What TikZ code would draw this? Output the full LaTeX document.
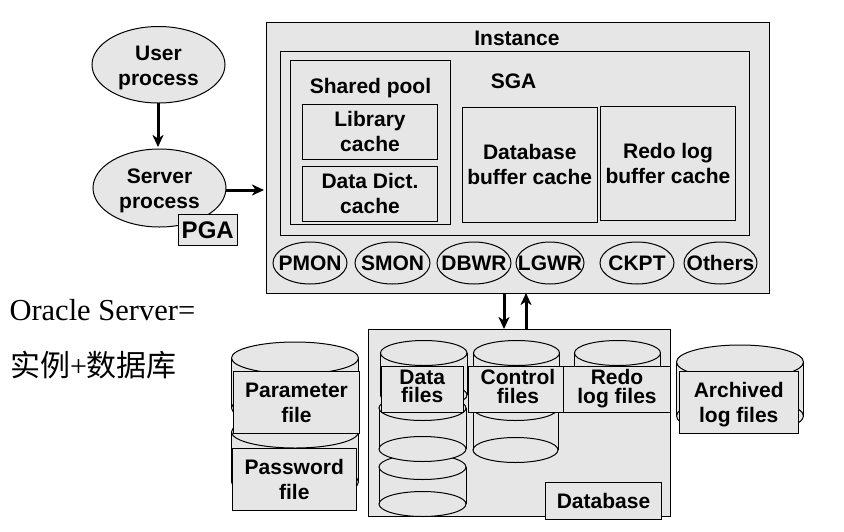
\documentclass[tikz,border=0pt]{standalone}
\usepackage{fontspec}
\setmainfont{Liberation Sans}
\newfontfamily\serifone{Liberation Serif}
\newfontfamily\cjkone{Noto Sans CJK SC}
\usetikzlibrary{arrows.meta,shapes.geometric}
\definecolor{panel}{HTML}{E6E6E6}
\tikzset{
  every node/.style={inner sep=0pt,outer sep=0pt,text=black},
  lbl/.style={font=\bfseries\fontsize{21}{25}\selectfont,align=center},
  panelbox/.style={draw=black,fill=panel,line width=1pt,rectangle},
  procshape/.style={draw=black,fill=panel,line width=1pt,ellipse},
  flow/.style={draw=black,line width=3pt,-{Stealth[length=12pt,width=11pt,inset=3.5pt]}},
  cylline/.style={draw=black,line width=1pt,fill=panel}
}
% name, x1, y1, x2, y2, text
\newcommand\pbox[7][]{%
  \pgfmathsetmacro\bw{#5-#3}\pgfmathsetmacro\bh{#6-#4}%
  \pgfmathsetmacro\bx{(#5+#3)/2}\pgfmathsetmacro\by{(#6+#4)/2}%
  \node[panelbox,lbl,minimum width=\bw pt,minimum height=\bh pt,#1] (#2) at (\bx,\by) {#7};}
\newcommand\pell[7][]{%
  \pgfmathsetmacro\bw{#5-#3}\pgfmathsetmacro\bh{#6-#4}%
  \pgfmathsetmacro\bx{(#5+#3)/2}\pgfmathsetmacro\by{(#6+#4)/2}%
  \node[procshape,lbl,minimum width=\bw pt,minimum height=\bh pt,#1] (#2) at (\bx,\by) {#7};}
% x-left, x-right, ry, y top centre, y bottom centre
\newcommand\cyl[5]{%
  \pgfmathsetmacro\cx{(#1+#2)/2}\pgfmathsetmacro\rx{(#2-#1)/2}%
  \fill[panel] (#1,#4) rectangle (#2,#5);
  \draw[cylline] (\cx,#5) ellipse[x radius=\rx pt,y radius=#3 pt];
  \draw[line width=1pt] (#1,#4) -- (#1,#5) (#2,#4) -- (#2,#5);
  \draw[cylline] (\cx,#4) ellipse[x radius=\rx pt,y radius=#3 pt];}
% extra depth, width, line one, line two
\newcommand\tight[4]{\parbox{#2}{\centering\fontsize{21}{18.5}\selectfont #3\\#4\rule[-#1]{0pt}{1pt}}}
\begin{document}
\begin{tikzpicture}[x=1pt,y=-1pt]
\useasboundingbox (0,0) rectangle (844,531);
% processes on the left
\pell{user}{92}{26.5}{225}{103}{\rule{0pt}{20pt}User\\process}
\pell{server}{93}{149}{226}{227}{\rule{0pt}{20pt}Server\\process}
\pbox{pga}{178}{214}{237.5}{245.5}{\fontsize{24}{25}\selectfont PGA}
% instance
\pbox{instance}{266.5}{22.5}{769.5}{293}{}
\node[lbl] (instlabel) at (517,38) {Instance};
\pbox{sga}{280}{51.5}{749}{235}{}
\node[lbl] (sgalabel) at (513.5,81) {SGA};
\pbox{pool}{290.5}{60.5}{450.5}{224.5}{}
\node[lbl] (poollabel) at (370.5,88) {Shared pool};
\pbox{library}{302.5}{104.5}{437.5}{159}{Library\\cache}
\pbox{dict}{302.5}{166.5}{437.5}{221}{Data Dict.\\cache}
\pbox{dbbuf}{462}{107}{597.5}{222}{Database\\buffer cache}
\pbox{redobuf}{600.5}{106}{735.5}{220.5}{Redo log\\buffer cache}
\pell{pmon}{273}{242}{347}{284}{\makebox[0pt]{PMON}}
\pell{smon}{355}{242}{430}{284}{\makebox[0pt]{SMON}}
\pell{dbwr}{437}{242}{511}{284}{\makebox[0pt]{DBWR}}
\pell{lgwr}{516}{242}{584}{284}{\makebox[0pt]{LGWR}}
\pell{ckpt}{600}{242}{674}{284}{\makebox[0pt]{CKPT}}
\pell{others}{684}{242}{757}{284}{\makebox[0pt]{Others}}
% free text
\node[anchor=base west,font=\serifone\fontsize{30.5}{30}\selectfont] (oracle) at (9.5,320) {Oracle Server=};
\node[anchor=base west,font=\fontsize{30}{30}\selectfont] (cn) at (10,376) {{\cjkone 实例}{\serifone +}{\cjkone 数据库}};
% database
\pbox{database}{368.5}{329.5}{670}{516.5}{}
\cyl{379}{466}{12.5}{467}{504}
\cyl{379}{466}{12.5}{408}{449}
\cyl{380.5}{467}{12.5}{353}{395}
\cyl{473}{558}{12.5}{408}{450}
\cyl{473.5}{559.5}{12.5}{353}{395}
\cyl{574.5}{660.5}{12.5}{353}{395}
\pbox{datafiles}{381.5}{366.5}{463}{412.5}{\tight{6pt}{78pt}{Data}{files}}
\pbox{ctrlfiles}{468.5}{366.5}{563.5}{412.5}{\hspace*{4pt}\tight{6pt}{88pt}{Control}{files}}
\pbox{redofiles}{563.5}{366.5}{670.5}{412.5}{\tight{6.5pt}{100pt}{Redo}{log files}}
\pbox{dblabel}{545.5}{482.5}{661.5}{519.5}{Database}
% outer cylinders
\cyl{231.5}{358.5}{16}{432}{482}
\cyl{231.5}{358.5}{16}{358}{408}
\pbox{paramfile}{233.5}{371.5}{359.5}{433}{\rule{0pt}{16pt}Parameter\\file}
\pbox{pwfile}{232.5}{448.5}{356}{510.5}{Password\\file}
\cyl{676.5}{803.5}{17}{362}{416}
\pbox{archfile}{679}{371.5}{798.5}{433.5}{\rule{0pt}{20pt}Archived\\log files}
% connectors
\coordinate (srvin) at (264,190);
\coordinate (dnTop) at (504,293);
\coordinate (dnEnd) at (504,329);
\coordinate (upBot) at (526,329);
\coordinate (upEnd) at (526,293);
\draw[flow] (user.south -| 158,0) -- (158,147);
\draw[flow] (server.east |- srvin) -- (srvin);
\draw[flow] (dnTop) -- (dnEnd);
\draw[flow] (upBot) -- (upEnd);
\end{tikzpicture}
\end{document}
